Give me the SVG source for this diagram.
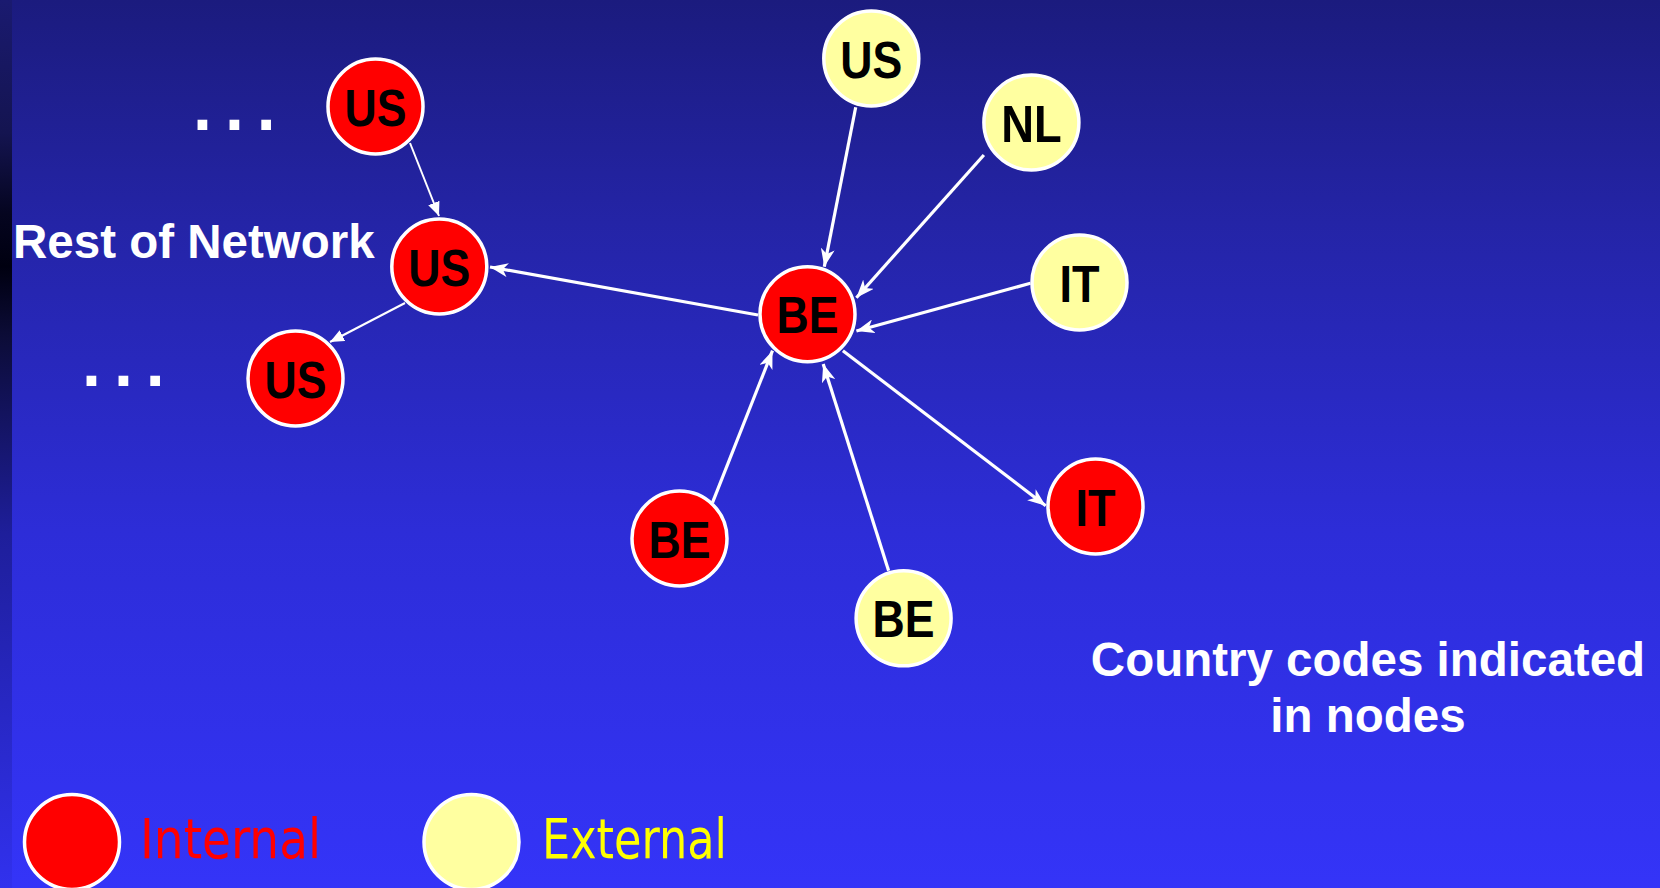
<svg xmlns="http://www.w3.org/2000/svg" width="1660" height="888" viewBox="0 0 1660 888">
  <defs>
    <linearGradient id="bg" x1="0" y1="0" x2="0" y2="1">
      <stop offset="0" stop-color="#1b1b7e"/>
      <stop offset="0.25" stop-color="#2424a6"/>
      <stop offset="0.6" stop-color="#2d2dd8"/>
      <stop offset="1" stop-color="#3434f8"/>
    </linearGradient>
    <linearGradient id="edge" x1="0" y1="0" x2="0" y2="1">
      <stop offset="0" stop-color="#1a1a70"/>
      <stop offset="0.15" stop-color="#141450"/>
      <stop offset="0.24" stop-color="#050520"/>
      <stop offset="0.3" stop-color="#000010"/>
      <stop offset="0.38" stop-color="#0c0c38"/>
      <stop offset="0.6" stop-color="#1e1e9a"/>
      <stop offset="1" stop-color="#3131ee"/>
    </linearGradient>
    <marker id="tri" viewBox="0 0 14 12" refX="14" refY="6" markerWidth="14" markerHeight="12" markerUnits="userSpaceOnUse" orient="auto">
      <path d="M0,0 L14,6 L0,12 Z" fill="#ffffff"/>
    </marker>
    <marker id="stealth" viewBox="0 0 18 14" refX="18" refY="7" markerWidth="18" markerHeight="14" markerUnits="userSpaceOnUse" orient="auto">
      <path d="M0,0 L18,7 L0,14 L5,7 Z" fill="#ffffff"/>
    </marker>
  </defs>
  <style>
    .internal { fill: #ff0000; stroke: #ffffff; stroke-width: 3.5; }
    .external { fill: #ffffa0; stroke: #ffffff; stroke-width: 3.5; }
    .code { font-family: "Liberation Sans", Arial, sans-serif; font-weight: bold; font-size: 51px; fill: #000000; text-anchor: middle; }
    .note { font-family: "Liberation Sans", Arial, sans-serif; font-weight: bold; fill: #ffffff; }
    .thin { stroke: #ffffff; stroke-width: 2; fill: none; marker-end: url(#tri); }
    .thick { stroke: #ffffff; stroke-width: 3.2; fill: none; marker-end: url(#stealth); }
    .legend { font-family: "DejaVu Sans Condensed", "DejaVu Sans", sans-serif; font-size: 55px; }
  </style>

  <!-- backdrop -->
  <rect x="0" y="0" width="1660" height="888" fill="url(#bg)"/>
  <rect x="0" y="0" width="12" height="888" fill="url(#edge)"/>

  <!-- connectors -->
  <g id="connectors">
    <line class="thin" x1="410" y1="143" x2="439" y2="216"/>
    <line class="thin" x1="405" y1="303" x2="330" y2="342"/>
    <line class="thick" x1="758" y1="315" x2="490" y2="267"/>
    <line class="thick" x1="855.7" y1="107.3" x2="824.3" y2="266.7"/>
    <line class="thick" x1="983.9" y1="155" x2="856.4" y2="297.7"/>
    <line class="thick" x1="1030.4" y1="283.3" x2="856.4" y2="331"/>
    <line class="thick" x1="712.5" y1="502.7" x2="772.5" y2="350.7"/>
    <line class="thick" x1="888.6" y1="570.7" x2="823.2" y2="364"/>
    <line class="thick" x1="842.9" y1="350.7" x2="1045.7" y2="505.7"/>
  </g>

  <!-- nodes -->
  <g id="us-upper" transform="translate(375.5,106.5)">
    <circle class="internal" r="47.5"/>
    <text class="code" y="19" textLength="62" lengthAdjust="spacingAndGlyphs">US</text>
  </g>
  <g id="us-gateway" transform="translate(439.3,266.5)">
    <circle class="internal" r="47.5"/>
    <text class="code" y="19" textLength="62" lengthAdjust="spacingAndGlyphs">US</text>
  </g>
  <g id="us-lower" transform="translate(295.5,378.5)">
    <circle class="internal" r="47.5"/>
    <text class="code" y="19" textLength="62" lengthAdjust="spacingAndGlyphs">US</text>
  </g>
  <g id="us-external" transform="translate(871.3,58.5)">
    <circle class="external" r="47.5"/>
    <text class="code" y="19" textLength="62" lengthAdjust="spacingAndGlyphs">US</text>
  </g>
  <g id="nl-external" transform="translate(1031.4,122.5)">
    <circle class="external" r="47.5"/>
    <text class="code" y="19" textLength="60.5" lengthAdjust="spacingAndGlyphs">NL</text>
  </g>
  <g id="it-external" transform="translate(1079.5,282.5)">
    <circle class="external" r="47.5"/>
    <text class="code" y="19" textLength="40" lengthAdjust="spacingAndGlyphs">IT</text>
  </g>
  <g id="be-hub" transform="translate(807.5,314.2)">
    <circle class="internal" r="47.5"/>
    <text class="code" y="19" textLength="62" lengthAdjust="spacingAndGlyphs">BE</text>
  </g>
  <g id="be-internal" transform="translate(679.5,538.5)">
    <circle class="internal" r="47.5"/>
    <text class="code" y="19" textLength="62" lengthAdjust="spacingAndGlyphs">BE</text>
  </g>
  <g id="be-external" transform="translate(903.6,618.3)">
    <circle class="external" r="47.5"/>
    <text class="code" y="19" textLength="62" lengthAdjust="spacingAndGlyphs">BE</text>
  </g>
  <g id="it-internal" transform="translate(1095.5,506.5)">
    <circle class="internal" r="47.5"/>
    <text class="code" y="19" textLength="40" lengthAdjust="spacingAndGlyphs">IT</text>
  </g>

  <!-- annotations -->
  <g id="ellipsis-upper">
    <text class="note" x="193" y="130" font-size="68" letter-spacing="13">...</text>
  </g>
  <g id="ellipsis-lower">
    <text class="note" x="82" y="386" font-size="68" letter-spacing="13">...</text>
  </g>
  <g id="rest-label">
    <text class="note" x="13" y="258" font-size="47.5">Rest of Network</text>
  </g>
  <g id="codes-note">
    <text class="note" x="1368" y="676" font-size="47.5" text-anchor="middle">Country codes indicated</text>
    <text class="note" x="1368" y="732" font-size="47.5" text-anchor="middle">in nodes</text>
  </g>

  <!-- legend -->
  <g id="legend-internal">
    <circle class="internal" cx="72" cy="842" r="47.5"/>
    <text class="legend" x="140" y="858" fill="#ff0000" textLength="181" lengthAdjust="spacingAndGlyphs">Internal</text>
  </g>
  <g id="legend-external">
    <circle class="external" cx="471.5" cy="842" r="47.5"/>
    <text class="legend" x="542" y="858" fill="#ffff00" textLength="185" lengthAdjust="spacingAndGlyphs">External</text>
  </g>
</svg>
